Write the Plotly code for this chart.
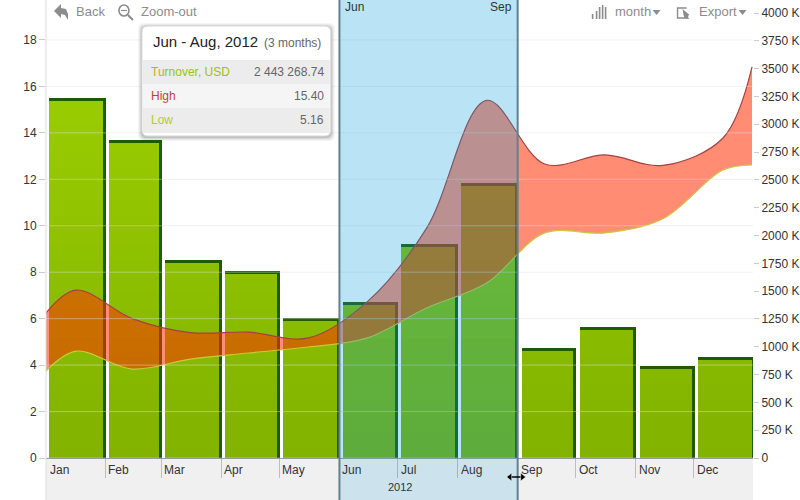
"""
plot.py - monthly turnover bars with a high/low range area and a selected period.
"""

import numpy as np
import pandas as pd
import plotly.graph_objects as go

MONTHS = ["Jan", "Feb", "Mar", "Apr", "May", "Jun", "Jul", "Aug", "Sep", "Oct", "Nov", "Dec"]
MONTH_STARTS = pd.date_range("2012-01-01", "2013-01-01", freq="MS")
TURNOVER = [3236000, 2858000, 1780000, 1681000, 1258000, 1402000,
            1924000, 2472000, 989000, 1178000, 827000, 908000]

RANGE_DATES = ["2012-01-01", "2012-01-17", "2012-02-15", "2012-03-16", "2012-04-15", "2012-05-16", "2012-06-15",
               "2012-07-16", "2012-08-16", "2012-09-15", "2012-10-16", "2012-11-15", "2012-12-16", "2012-12-31"]
HIGH = [6.2, 7.23, 6.0, 5.4, 5.42, 5.17, 6.7, 9.9, 15.4, 12.66, 13.05, 12.6, 13.78, 16.84]
LOW = [3.7, 4.6, 3.83, 4.26, 4.52, 4.78, 5.16, 6.46, 7.53, 9.69, 9.69, 10.3, 12.4, 12.62]

LEFT_TICKS = [0, 2, 4, 6, 8, 10, 12, 14, 16, 18]
RIGHT_TICKS = [0, 250000, 500000, 750000, 1000000, 1250000, 1500000, 1750000, 2000000,
               2250000, 2500000, 2750000, 3000000, 3250000, 3500000, 3750000, 4000000]
RIGHT_LABELS = ["0", "250 K", "500 K", "750 K", "1000 K", "1250 K", "1500 K", "1750 K", "2000 K",
                "2250 K", "2500 K", "2750 K", "3000 K", "3250 K", "3500 K", "3750 K", "4000 K"]

SELECT_START = "2012-06-01"
SELECT_END = "2012-09-01"

DAY_MS = 86400000
FONT = "Liberation Sans, Arial, sans-serif"
W, H = 800, 500
L, R, B = 46, 753.5, 458


def px(x):
    return (x - L) / (R - L)


def py(y):
    return (B - y) / B


def rounded(x0, y0, x1, y1, r):
    x0, x1 = px(x0), px(x1)
    y0, y1 = py(y0), py(y1)
    rx, ry = r / (R - L), r / B
    return (f"M{x0 + rx},{y0} L{x1 - rx},{y0} Q{x1},{y0} {x1},{y0 - ry} L{x1},{y1 + ry} Q{x1},{y1} {x1 - rx},{y1} "
            f"L{x0 + rx},{y1} Q{x0},{y1} {x0},{y1 + ry} L{x0},{y0 - ry} Q{x0},{y0} {x0 + rx},{y0} Z")


def icon(points, close=False):
    path = "M" + " L".join(f"{px(x)},{py(y)}" for x, y in points)
    return path + (" Z" if close else "")


days = np.diff(MONTH_STARTS.values).astype("timedelta64[D]").astype(int)
starts = MONTH_STARTS[:-1]
turnover = np.array(TURNOVER)

fig = go.Figure()

# dark back bars give the top and right edge, the front ones are stepped for the gradient
fig.add_trace(go.Bar(
    x=starts, y=turnover, width=(days - 1.7) * DAY_MS, offset=2 * DAY_MS,
    marker=dict(color="#1f5a00", line_width=0), hoverinfo="skip", showlegend=False,
))
front = turnover - 27000
for level in np.linspace(3300000, 100000, 24):
    t = level / 3300000
    color = f"rgb({round(128 + 25 * t)},{round(178 + 26 * t)},0)"
    fig.add_trace(go.Bar(
        x=starts, y=np.minimum(front, level), width=(days - 3.2) * DAY_MS, offset=2 * DAY_MS,
        marker=dict(color=color, line_width=0), hoverinfo="skip", showlegend=False,
    ))

fig.add_trace(go.Scatter(
    x=RANGE_DATES, y=LOW, yaxis="y2", mode="lines", name="Low",
    line=dict(color="#c9c93a", width=1.2, shape="spline", smoothing=1.0), showlegend=False,
))
fig.add_trace(go.Scatter(
    x=RANGE_DATES, y=HIGH, yaxis="y2", mode="lines", name="High", fill="tonexty",
    fillcolor="rgba(255,45,0,0.55)",
    line=dict(color="#a8403f", width=1.2, shape="spline", smoothing=1.0), showlegend=False,
))

shapes = [
    # band below the plot
    dict(type="rect", xref="paper", yref="paper", x0=0, x1=1, y0=py(H), y1=0,
         fillcolor="#f0f0f0", line_width=0, layer="below"),
]
for v in LEFT_TICKS:
    shapes.append(dict(type="line", xref="paper", yref="y2", x0=0, x1=1, y0=v, y1=v,
                       line=dict(color="rgba(225,225,225,0.45)", width=1), layer="above"))
shapes += [
    dict(type="line", xref="paper", yref="paper", x0=0, x1=0, y0=py(H), y1=1,
         line=dict(color="#dcdcdc", width=1), layer="above"),
    # selected period
    dict(type="rect", xref="x", yref="paper", x0=SELECT_START, x1=SELECT_END, y0=0, y1=1,
         fillcolor="rgba(0,155,222,0.27)", line_width=0, layer="above"),
    dict(type="rect", xref="x", yref="paper", x0=SELECT_START, x1=SELECT_END, y0=py(H), y1=0,
         fillcolor="rgba(0,155,222,0.15)", line_width=0, layer="above"),
    dict(type="line", xref="x", yref="paper", x0=SELECT_START, x1=SELECT_START, y0=py(H), y1=1,
         line=dict(color="#62808e", width=2), layer="above"),
    dict(type="line", xref="x", yref="paper", x0=SELECT_END, x1=SELECT_END, y0=py(H), y1=1,
         line=dict(color="#62808e", width=2), layer="above"),
]

# tooltip box
for grow, alpha in [(4, 0.04), (3, 0.05), (2, 0.07), (1, 0.1)]:
    shapes.append(dict(type="path", xref="paper", yref="paper", line_width=0,
                       path=rounded(142 - grow, 26 - grow + 1, 331 + grow, 136 + grow + 1, 6),
                       fillcolor=f"rgba(0,0,0,{alpha})", layer="above"))
shapes.append(dict(type="path", xref="paper", yref="paper", path=rounded(142, 26, 331, 136, 6),
                   fillcolor="#ffffff", line=dict(color="#d8d8d8", width=1), layer="above"))
for y0, y1, c in [(60, 84, "#ececec"), (84, 108, "#f5f5f5"), (108, 133, "#ececec")]:
    shapes.append(dict(type="rect", xref="paper", yref="paper", x0=px(143), x1=px(330), y0=py(y1), y1=py(y0),
                       fillcolor=c, line_width=0, layer="above"))

# toolbar icons
GREY = "#8c8c8c"
shapes += [
    dict(type="path", xref="paper", yref="paper", fillcolor=GREY, line_width=0, layer="above",
         path=icon([(54, 11), (61, 4), (61, 8), (66, 9), (68, 14), (68, 20), (65, 15), (61, 14), (61, 18)], True)),
    dict(type="circle", xref="paper", yref="paper", x0=px(119), x1=px(129), y0=py(16), y1=py(5),
         line=dict(color=GREY, width=1.6), layer="above"),
    dict(type="line", xref="paper", yref="paper", x0=px(128), x1=px(133), y0=py(15), y1=py(20),
         line=dict(color=GREY, width=2), layer="above"),
    dict(type="line", xref="paper", yref="paper", x0=px(121), x1=px(127), y0=py(10.5), y1=py(10.5),
         line=dict(color=GREY, width=1.2), layer="above"),
    dict(type="path", xref="paper", yref="paper", line=dict(color=GREY, width=1.4), layer="above",
         path=icon([(687, 8), (678, 8), (678, 18), (688, 18), (688, 14)])),
    dict(type="path", xref="paper", yref="paper", fillcolor=GREY, line_width=0, layer="above",
         path=icon([(683, 9), (690, 15), (687, 16), (690, 19), (685, 18), (684, 15)], True)),
    dict(type="path", xref="paper", yref="paper", fillcolor=GREY, line_width=0, layer="above",
         path=icon([(653, 10), (661, 10), (657, 15)], True)),
    dict(type="path", xref="paper", yref="paper", fillcolor=GREY, line_width=0, layer="above",
         path=icon([(739, 10), (747, 10), (743, 15)], True)),
]
for x, top in zip([593, 597, 600, 603, 606], [14, 11, 7, 5, 7]):
    shapes.append(dict(type="line", xref="paper", yref="paper", x0=px(x), x1=px(x), y0=py(19), y1=py(top),
                       line=dict(color=GREY, width=1.6), layer="above"))

# resize cursor
shapes += [
    dict(type="line", xref="paper", yref="paper", x0=px(510), x1=px(522), y0=py(477), y1=py(477),
         line=dict(color="#000000", width=1.5), layer="above"),
    dict(type="path", xref="paper", yref="paper", fillcolor="#000000", line=dict(color="#ffffff", width=0.5),
         layer="above", path=icon([(507, 477), (512, 473), (512, 481)], True)),
    dict(type="path", xref="paper", yref="paper", fillcolor="#000000", line=dict(color="#ffffff", width=0.5),
         layer="above", path=icon([(526, 477), (521, 473), (521, 481)], True)),
]


def note(x, y, text, color="#333333", size=12, anchor="left"):
    return dict(xref="paper", yref="paper", x=px(x), y=py(y), text=text, showarrow=False, xanchor=anchor,
                yanchor="middle", align=anchor, font=dict(family=FONT, size=size, color=color),
                borderpad=0, xshift=0)


annotations = []
for name, start in zip(MONTHS, starts):
    annotations.append(dict(xref="x", yref="paper", x=max(start, pd.Timestamp("2012-01-02")), y=py(470), text=name,
                            showarrow=False, xanchor="left", xshift=1, yanchor="middle",
                            font=dict(family=FONT, size=12, color="#333333")))
annotations += [
    note(400, 487, "2012", size=11, anchor="center"),
    note(344, 7, "Jun"),
    note(513, 7, "Sep", anchor="right"),
    note(75, 12, "Back", GREY, 13),
    note(140, 12, "Zoom-out", GREY, 13),
    note(614, 12, "month", GREY, 13),
    note(698, 12, "Export", GREY, 13),
    note(152, 42, "Jun - Aug, 2012", "#222222", 15),
    note(263, 43, "(3 months)", "#666666", 12),
    note(150, 72, "Turnover, USD", "#9cc400", 12),
    note(325, 72, "2 443 268.74", "#666666", 12, "right"),
    note(150, 96, "High", "#c4403c", 12),
    note(325, 96, "15.40", "#666666", 12, "right"),
    note(150, 120, "Low", "#b8cc22", 12),
    note(325, 120, "5.16", "#666666", 12, "right"),
]

fig.update_layout(
    width=W, height=H,
    barmode="overlay",
    bargap=0,
    paper_bgcolor="white",
    plot_bgcolor="rgba(0,0,0,0)",
    margin=dict(l=L, r=W - R, t=0, b=H - B, pad=0),
    font=dict(family=FONT, size=12, color="#333333"),
    showlegend=False,
    shapes=shapes,
    annotations=annotations,
    xaxis=dict(
        type="date", range=["2012-01-01 12:00", "2012-12-31 12:00"],
        tickmode="array", tickvals=list(starts[1:]), ticktext=[""] * 11,
        ticks="outside", ticklen=19, tickcolor="#bdbdbd", tickwidth=1,
        showgrid=False, zeroline=False, showline=True, linecolor="#9a9a9a", linewidth=1,
    ),
    yaxis=dict(
        side="right", range=[0, 4116900], tickmode="array", tickvals=RIGHT_TICKS, ticktext=RIGHT_LABELS,
        ticks="outside", ticklen=5, tickcolor="#cccccc", showgrid=False, zeroline=False, showline=False,
    ),
    yaxis2=dict(
        overlaying="y", side="left", range=[0, 19.72], tickmode="array", tickvals=LEFT_TICKS,
        ticks="outside", ticklen=6, tickcolor="#cccccc", showgrid=False, zeroline=False, showline=False,
    ),
)

# the page adds a body margin, the chart has to sit in the corner of the window
fig.write_html("out.html", config=dict(displayModeBar=False),
               post_script="document.body.style.margin = '0';")
